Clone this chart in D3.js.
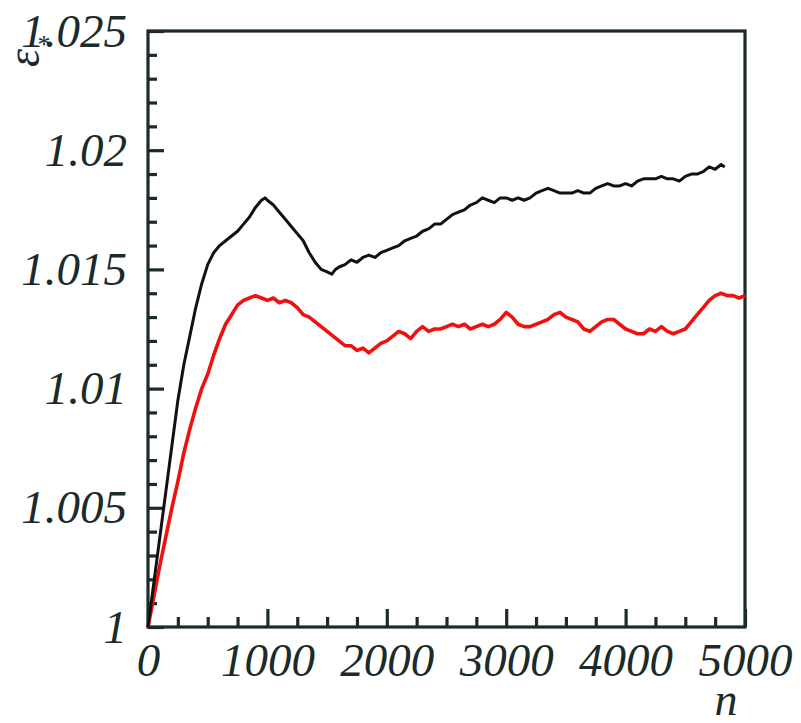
<!DOCTYPE html>
<html>
<head>
<meta charset="utf-8">
<script src="https://cdn.jsdelivr.net/npm/d3@7"></script>
<style>
  html, body { margin: 0; padding: 0; background: #fff; }
  svg { display: block; }
</style>
</head>
<body>
<svg id="chart" width="801" height="723"></svg>
<script>
// Sample index n and the two convergence curves of eps*
const upperN = [0,50,100,150,200,250,300,350,400,450,500,550,600,650,700,750,800,850,900,950,980,1000,
  1050,1100,1150,1200,1250,1300,1350,1400,1450,1500,1540,1570,1600,1650,1700,1750,1800,1850,1900,1950,
  2000,2050,2100,2150,2200,2250,2300,2350,2400,2450,2500,2550,2600,2650,2700,2750,2800,2850,2900,2950,
  3000,3050,3100,3150,3200,3250,3300,3350,3400,3450,3500,3550,3600,3650,3700,3750,3800,3850,3900,3950,
  4000,4050,4100,4150,4200,4250,4300,4350,4400,4450,4500,4550,4600,4650,4700,4750,4800,4830];
const upperEps = [1.0000,1.0019,1.0038,1.0057,1.0076,1.0095,1.0110,1.0122,1.0134,1.0144,1.0152,1.0157,1.0160,1.0162,1.0164,1.0166,1.0169,1.0172,1.0176,1.0179,1.0180,1.0179,
  1.0177,1.0174,1.0171,1.0168,1.0165,1.0162,1.0157,1.0153,1.0150,1.0149,1.0148,1.0150,1.0151,1.0152,1.0154,1.0153,1.0155,1.0156,1.0155,1.0157,
  1.0158,1.0159,1.0160,1.0162,1.0163,1.0164,1.0166,1.0167,1.0169,1.0169,1.0171,1.0173,1.0174,1.0175,1.0177,1.0178,1.0180,1.0179,1.0178,1.0180,
  1.0180,1.0179,1.0180,1.0179,1.0180,1.0182,1.0183,1.0184,1.0183,1.0182,1.0182,1.0182,1.0183,1.0182,1.0182,1.0184,1.0185,1.0186,1.0185,1.0185,
  1.0186,1.0185,1.0187,1.0188,1.0188,1.0188,1.0189,1.0188,1.0188,1.0187,1.0189,1.0190,1.0190,1.0191,1.0193,1.0192,1.0194,1.0193];

const lowerN = [0,50,100,150,200,250,300,350,400,450,500,550,600,650,700,750,800,850,900,950,1000,
  1050,1100,1150,1200,1250,1300,1350,1400,1450,1500,1550,1600,1650,1700,1750,1800,1850,1900,1950,
  2000,2050,2100,2150,2200,2250,2300,2350,2400,2450,2500,2550,2600,2650,2700,2750,2800,2850,2900,2950,
  3000,3050,3100,3150,3200,3250,3300,3350,3400,3450,3500,3550,3600,3650,3700,3750,3800,3850,3900,3950,
  4000,4050,4100,4150,4200,4250,4300,4350,4400,4450,4500,4550,4600,4650,4700,4750,4800,4850,4900,4950,5000];
const lowerEps = [1.0000,1.0013,1.0026,1.0038,1.0050,1.0061,1.0073,1.0083,1.0092,1.0100,1.0106,1.0114,1.0121,1.0127,1.0131,1.0135,1.0137,1.0138,1.0139,1.0138,1.0137,
  1.0138,1.0136,1.0137,1.0136,1.0134,1.0131,1.0130,1.0128,1.0126,1.0124,1.0122,1.0120,1.0118,1.0118,1.0116,1.0117,1.0115,1.0117,1.0119,
  1.0120,1.0122,1.0124,1.0123,1.0121,1.0124,1.0126,1.0124,1.0125,1.0125,1.0126,1.0127,1.0126,1.0127,1.0125,1.0126,1.0127,1.0126,1.0127,1.0129,
  1.0132,1.0130,1.0127,1.0126,1.0126,1.0127,1.0128,1.0129,1.0131,1.0132,1.0130,1.0129,1.0128,1.0125,1.0124,1.0126,1.0128,1.0129,1.0129,1.0127,
  1.0125,1.0124,1.0123,1.0123,1.0125,1.0124,1.0126,1.0124,1.0123,1.0124,1.0125,1.0128,1.0131,1.0134,1.0137,1.0139,1.0140,1.0139,1.0139,1.0138,1.0139];

const xTicks = [0, 1000, 2000, 3000, 4000, 5000];
const xTickLabels = ["0", "1000", "2000", "3000", "4000", "5000"];
const yTicks = [1, 1.005, 1.01, 1.015, 1.02, 1.025];
const yTickLabels = ["1", "1.005", "1.01", "1.015", "1.02", "1.025"];

const margin = { left: 148, right: 56, top: 31, bottom: 96 };
const W = 801, H = 723;
const axisColor = "#1b2a2a";
const fontStack = '"Liberation Serif", "DejaVu Serif", serif';

const svg = d3.select("#chart");
const x = d3.scaleLinear().domain([0, 5000]).range([margin.left, W - margin.right]);
const y = d3.scaleLinear().domain([1, 1.025]).range([H - margin.bottom, margin.top]);

// minor ticks (no labels)
const xMinor = d3.range(0, 5001, 250).filter(v => v % 1000 !== 0);
const yMinor = d3.range(0, 26).map(i => 1 + i * 0.001).filter((v, i) => i % 5 !== 0);

const gxMinor = svg.append("g").attr("transform", `translate(0,${y.range()[0]})`)
  .call(d3.axisBottom(x).tickValues(xMinor).tickSize(-10).tickFormat(""));
const gyMinor = svg.append("g").attr("transform", `translate(${x.range()[0]},0)`)
  .call(d3.axisLeft(y).tickValues(yMinor).tickSize(-9).tickFormat(""));

const gx = svg.append("g").attr("transform", `translate(0,${y.range()[0]})`)
  .call(d3.axisBottom(x).tickValues(xTicks).tickSize(-18).tickPadding(16)
    .tickFormat((d, i) => xTickLabels[i]));
const gy = svg.append("g").attr("transform", `translate(${x.range()[0]},0)`)
  .call(d3.axisLeft(y).tickValues(yTicks).tickSize(-16).tickPadding(21)
    .tickFormat((d, i) => yTickLabels[i]));

[gxMinor, gyMinor, gx, gy].forEach(g => {
  g.attr("font-family", fontStack);
  g.select(".domain").remove();
  g.selectAll(".tick line").attr("stroke", axisColor).attr("stroke-width", 3.2);
  g.selectAll(".tick text").attr("fill", axisColor).attr("font-size", 47)
    .attr("font-family", fontStack).attr("font-style", "italic");
});

// frame
svg.append("rect")
  .attr("x", x.range()[0]).attr("y", y.range()[1])
  .attr("width", x.range()[1] - x.range()[0])
  .attr("height", y.range()[0] - y.range()[1])
  .attr("fill", "none").attr("stroke", axisColor).attr("stroke-width", 3.2);

// curves
const line = d3.line().x(d => x(d[0])).y(d => y(d[1]));
svg.append("path")
  .datum(lowerN.map((n, i) => [n, lowerEps[i]]))
  .attr("d", line).attr("fill", "none")
  .attr("stroke", "#f01010").attr("stroke-width", 3.6).attr("stroke-linejoin", "round");
svg.append("path")
  .datum(upperN.map((n, i) => [n, upperEps[i]]))
  .attr("d", line).attr("fill", "none")
  .attr("stroke", "#111").attr("stroke-width", 3).attr("stroke-linejoin", "round");

// axis titles
svg.append("text")
  .attr("transform", "translate(39,67) rotate(-90)")
  .attr("font-family", fontStack).attr("font-style", "italic").attr("font-size", 46)
  .attr("fill", axisColor).text("ε");
svg.append("text")
  .attr("x", 44).attr("y", 53).attr("text-anchor", "middle")
  .attr("font-family", fontStack).attr("font-size", 26)
  .attr("fill", axisColor).text("*");
svg.append("text")
  .attr("x", 726).attr("y", 715).attr("text-anchor", "middle")
  .attr("font-family", fontStack).attr("font-style", "italic").attr("font-size", 46)
  .attr("fill", axisColor).text("n");
</script>
</body>
</html>
